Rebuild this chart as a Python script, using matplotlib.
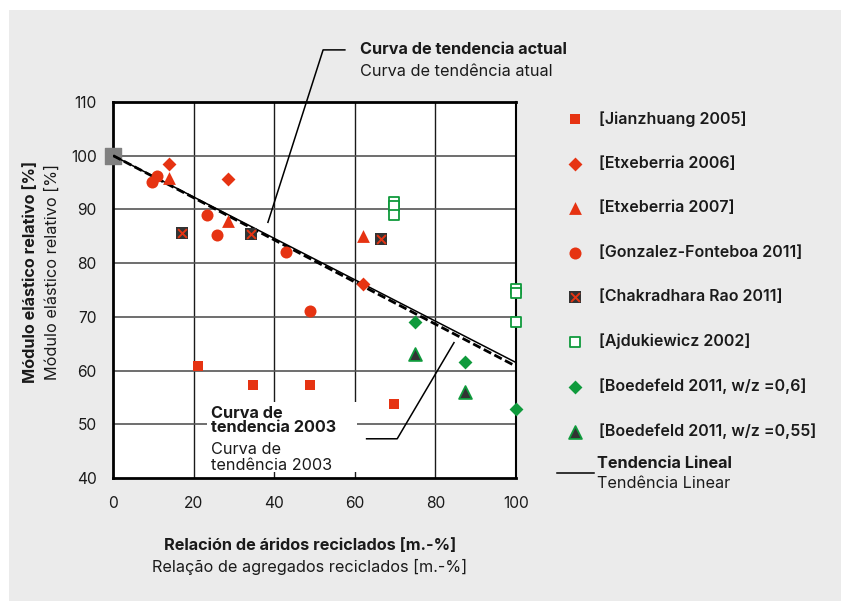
import matplotlib
matplotlib.use("Agg")
import matplotlib.pyplot as plt
from matplotlib.lines import Line2D
from matplotlib.patches import Rectangle

plt.rcParams['font.family'] = ['Inter', 'DejaVu Sans']

# relative modulus of elasticity vs. share of recycled aggregate
jianzhuang_x = [21.0, 34.7, 48.8, 69.7]
jianzhuang_y = [60.8, 57.4, 57.4, 53.7]
etx2006_x = [13.8, 28.6, 62.1]
etx2006_y = [98.5, 95.6, 76.2]
etx2007_x = [13.8, 28.6, 62.1]
etx2007_y = [95.9, 87.8, 85.0]
gonzalez_x = [9.7, 10.8, 23.2, 25.8, 42.8, 48.8]
gonzalez_y = [95.1, 96.2, 89.0, 85.2, 82.0, 71.1]
chakra_x = [17.1, 34.1, 66.4]
chakra_y = [85.6, 85.5, 84.5]
ajdu_x = [69.6, 69.6, 69.6, 100, 100, 100]
ajdu_y = [91.4, 90.7, 89.0, 75.1, 74.5, 69.1]
boed06_x = [74.9, 87.4, 99.9]
boed06_y = [69.0, 61.6, 52.8]
boed055_x = [74.9, 87.4]
boed055_y = [63.0, 56.1]

ref_x, ref_y = [0], [100]
trend_x = [0, 100]
trend_actual = [100, 61.5]
trend_2003 = [100, 60.8]

xticks = [0, 20, 40, 60, 80, 100]
yticks = [40, 50, 60, 70, 80, 90, 100, 110]

RED = '#e63312'
GREEN = '#0f9a3c'
DARK = '#333333'
TXT = '#1a1a1a'
FS = 11.7

W, H = 841, 601


def fpx(x, y):
    # pixel position -> figure fraction
    return x / W, 1 - y / H


fig = plt.figure(figsize=(W / 100, H / 100), dpi=100, facecolor='white')
fig.patches.append(Rectangle((9 / W, 0), 1, 1 - 10 / H, transform=fig.transFigure,
                             facecolor='#ebebeb', edgecolor='none', zorder=-10))

ax = fig.add_axes([113.3 / W, 1 - 478 / H, (516 - 113.3) / W, (478 - 102) / H])
ax.set_facecolor('white')
ax.set_xlim(0, 100)
ax.set_ylim(40, 110)
ax.set_xticks(xticks)
ax.set_yticks(yticks)
ax.tick_params(length=0, labelsize=11.2, colors=TXT)
ax.tick_params(axis='x', pad=13)
ax.tick_params(axis='y', pad=12)
for s in ['left', 'bottom', 'top']:
    ax.spines[s].set_linewidth(2.0)
ax.spines['right'].set_linewidth(1.5)

# grid
for gx in xticks[1:-1]:
    ax.axvline(gx, color='#1a1a1a', lw=1.0, zorder=0.5)
for gy in yticks[1:-1]:
    ax.axhline(gy, color='#555555', lw=1.2, zorder=0.5)

# white box behind the 2003 label
ax.add_patch(Rectangle((23.3, 41.2), 60.5 - 23.3, 54.2 - 41.2,
                       facecolor='white', edgecolor='none', zorder=1))

# data
ax.scatter(ref_x, ref_y, marker='s', s=130, color='#808080', zorder=4, clip_on=False)
ax.plot(trend_x, trend_actual, color='black', lw=1.1, zorder=5)
ax.plot(trend_x, trend_2003, color='black', lw=2.0, dashes=(3, 1.3), zorder=5)

h_jz = ax.scatter(jianzhuang_x, jianzhuang_y, marker='s', s=60, color=RED, lw=0, zorder=6)
h_e6 = ax.scatter(etx2006_x, etx2006_y, marker='D', s=50, color=RED, lw=0, zorder=6)
h_e7 = ax.scatter(etx2007_x, etx2007_y, marker='^', s=85, color=RED, lw=0, zorder=6)
h_gf = ax.scatter(gonzalez_x, gonzalez_y, marker='o', s=75, color=RED, lw=0, zorder=6)
h_cr1 = ax.scatter(chakra_x, chakra_y, marker='s', s=75, color=DARK, lw=0, zorder=6)
h_cr2 = ax.scatter(chakra_x, chakra_y, marker='x', s=40, color=RED, lw=1.4, zorder=7)
h_aj = ax.scatter(ajdu_x, ajdu_y, marker='s', s=55, facecolor='white', edgecolor=GREEN,
                  lw=1.3, zorder=6, clip_on=False)
h_b6 = ax.scatter(boed06_x, boed06_y, marker='D', s=50, color=GREEN, lw=0, zorder=6,
                  clip_on=False)
h_b5 = ax.scatter(boed055_x, boed055_y, marker='^', s=85, facecolor=DARK, edgecolor=GREEN,
                  lw=1.3, zorder=6)

# leader lines for the trend-curve labels
ax.plot([57.5, 52.1, 38.4], [119.7, 119.7, 87.6], color='black', lw=1.1,
        clip_on=False, zorder=5)
ax.plot([62.9, 70.5, 84.6], [47.3, 47.3, 65.2], color='black', lw=1.1, zorder=5)

fig.text(*fpx(360, 49), 'Curva de tendencia actual', fontsize=FS, fontweight='bold',
         color=TXT, va='center')
fig.text(*fpx(360, 72), 'Curva de tendência atual', fontsize=FS, color=TXT, va='center')
fig.text(*fpx(211, 420.5), 'Curva de\ntendencia 2003', fontsize=FS, fontweight='bold',
         color=TXT, va='center', linespacing=1.0, zorder=8)
fig.text(*fpx(211, 457.5), 'Curva de\ntendência 2003', fontsize=FS, color=TXT,
         va='center', linespacing=1.0, zorder=8)

# axis titles
fig.text(*fpx(31, 272), 'Módulo elástico relativo [%]', fontsize=FS, fontweight='bold',
         color=TXT, rotation=90, ha='center', va='center')
fig.text(*fpx(52, 272), 'Módulo elástico relativo [%]', fontsize=FS, color=TXT,
         rotation=90, ha='center', va='center')
fig.text(*fpx(310, 546), 'Relación de áridos reciclados [m.-%]', fontsize=FS,
         fontweight='bold', color=TXT, ha='center', va='center')
fig.text(*fpx(310, 567), 'Relação de agregados reciclados [m.-%]', fontsize=FS,
         color=TXT, ha='center', va='center')

# legend
handles = [h_jz, h_e6, h_e7, h_gf, (h_cr1, h_cr2), h_aj, h_b6, h_b5]
labels = ['[Jianzhuang 2005]', '[Etxeberria 2006]', '[Etxeberria 2007]',
          '[Gonzalez-Fonteboa 2011]', '[Chakradhara Rao 2011]', '[Ajdukiewicz 2002]',
          '[Boedefeld 2011, w/z =0,6]', '[Boedefeld 2011, w/z =0,55]']
leg = ax.legend(handles, labels, loc='upper left', bbox_to_anchor=fpx(565, 111),
                bbox_transform=fig.transFigure, frameon=False, fontsize=11.5,
                labelspacing=1.84, handlelength=1.2, handletextpad=0.9,
                borderaxespad=0, borderpad=0, scatterpoints=1)
for t in leg.get_texts():
    t.set_fontweight('semibold')
    t.set_color(TXT)

fig.add_artist(Line2D([557 / W, 594 / W], [1 - 473 / H, 1 - 473 / H],
                      transform=fig.transFigure, color='black', lw=1.1))
fig.text(*fpx(597, 464), 'Tendencia Lineal', fontsize=FS, fontweight='bold',
         color=TXT, va='center')
fig.text(*fpx(597, 484), 'Tendência Linear', fontsize=FS, color=TXT, va='center')

fig.savefig('out.png', dpi=100, facecolor=fig.get_facecolor())
